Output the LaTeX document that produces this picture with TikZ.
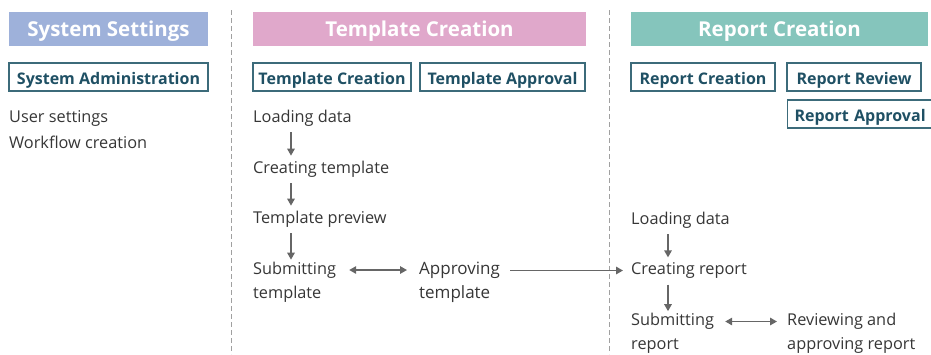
\documentclass[tikz,border=0pt]{standalone}
\usepackage{fontspec}
\setmainfont{Open Sans}
\usetikzlibrary{arrows.meta}
\definecolor{hdblue}{HTML}{9EB1DA}
\definecolor{hdpink}{HTML}{E0A8CB}
\definecolor{hdteal}{HTML}{85C5BC}
\definecolor{boxline}{HTML}{3C6B7A}
\definecolor{boxtext}{HTML}{1F5064}
\definecolor{bodytext}{HTML}{363636}
\definecolor{arrgray}{HTML}{666666}
\definecolor{dashgray}{HTML}{A0A0A0}
\tikzset{
  header/.style={fill=#1, draw=none, text=white, font=\bfseries\fontsize{20.5}{22}\selectfont, inner sep=0pt, text height=15pt, text depth=0pt},
  rolebox/.style={draw=boxline, line width=1.1pt, text=boxtext, font=\bfseries\fontsize{16}{18}\selectfont, inner sep=0pt, text height=14.5pt, text depth=0pt},
  body/.style={text=bodytext, font=\fontsize{16.3}{24}\selectfont, inner sep=0pt, anchor=west, align=left},
  bodybig/.style={text=bodytext, font=\fontsize{17}{24}\selectfont, inner sep=0pt, anchor=west, align=left},
  arr/.style={draw=arrgray, line width=1.5pt, -{Triangle[width=7.5pt,length=7pt]}},
  darr/.style={draw=arrgray, line width=1.5pt, {Triangle[width=7.5pt,length=7pt]}-{Triangle[width=7.5pt,length=7pt]}},
  sep/.style={draw=dashgray, line width=1pt, dash pattern=on 5pt off 3pt},
}
\begin{document}
\begin{tikzpicture}[x=1pt,y=-1pt]
\useasboundingbox (0,0) rectangle (931,354);
\begin{scope}
\clip (0,0) rectangle (931,354);
% separators
\coordinate (s1t) at (231,10); \coordinate (s1b) at (231,354);
\coordinate (s2t) at (609,10); \coordinate (s2b) at (609,354);
\draw[sep] (s1t) -- (s1b);
\draw[sep] (s2t) -- (s2b);
% headers
\node[header=hdblue, minimum width=199pt, minimum height=34pt] (h1) at (108.5,28.5) {System Settings};
\node[header=hdpink, minimum width=333pt, minimum height=34pt] (h2) at (419.5,28.5) {Template Creation};
\node[header=hdteal, minimum width=297pt, minimum height=34pt] (h3) at (779.5,28.5) {Report Creation};
% role boxes
\node[rolebox, minimum width=199pt, minimum height=28pt] (b1) at (108.5,77) {System Administration};
\node[rolebox, minimum width=158pt, minimum height=28pt] (b2) at (332,77) {Template Creation};
\node[rolebox, minimum width=165pt, minimum height=28pt] (b3) at (502.5,77) {Template Approval};
\node[rolebox, minimum width=144pt, minimum height=28pt] (b4) at (703,77) {Report Creation};
\node[rolebox, minimum width=134pt, minimum height=28pt] (b5) at (854,77) {Report Review};
\node[rolebox, minimum width=150pt, minimum height=28pt, anchor=west, text width=136pt, inner xsep=7pt, align=left] (b6) at (787,114) {Report Approval};
% system settings
\node[body] (us) at (9,118) {User settings};
\node[body] (wf) at (9,142) {Workflow creation};
% template column
\coordinate (tx) at (291,0);
\node[body] (tld) at (253,118) {Loading data};
\node[body] (tct) at (253,169) {Creating template};
\node[body] (tpv) at (253,219) {Template preview};
\node[body] (tst) at (253,282) {Submitting\\template};
\node[bodybig] (tap) at (419,282) {Approving\\template};
\draw[arr] ([yshift=-6pt]tld.south -| tx) -- ([yshift=5pt]tct.north -| tx);
\draw[arr] ([yshift=-6pt]tct.south -| tx) -- ([yshift=5pt]tpv.north -| tx);
\draw[arr] ([yshift=-6pt]tpv.south -| tx) -- ([yshift=2pt]tst.north -| tx);
\draw[darr] ([xshift=13pt,yshift=12pt]tst.east) -- ([xshift=-12pt,yshift=12pt]tap.west);
% report column
\coordinate (rx) at (668,0);
\node[body] (rld) at (631,220) {Loading data};
\node[body] (rcr) at (631,270.5) {Creating report};
\node[body] (rsr) at (631,333.5) {Submitting\\report};
\node[body] (rrv) at (787,333.5) {Reviewing and\\approving report};
\draw[arr] ([yshift=-6pt]rld.south -| rx) -- ([yshift=5pt]rcr.north -| rx);
\draw[arr] ([yshift=-6pt]rcr.south -| rx) -- ([yshift=2pt]rsr.north -| rx);
\draw[arr] ([xshift=10pt]tap.east |- rcr.west) -- ([xshift=-8pt]rcr.west);
\draw[darr] ([xshift=11pt,yshift=12pt]rsr.east) -- ([xshift=-10pt,yshift=12pt]rrv.west);
\end{scope}
\end{tikzpicture}
\end{document}
